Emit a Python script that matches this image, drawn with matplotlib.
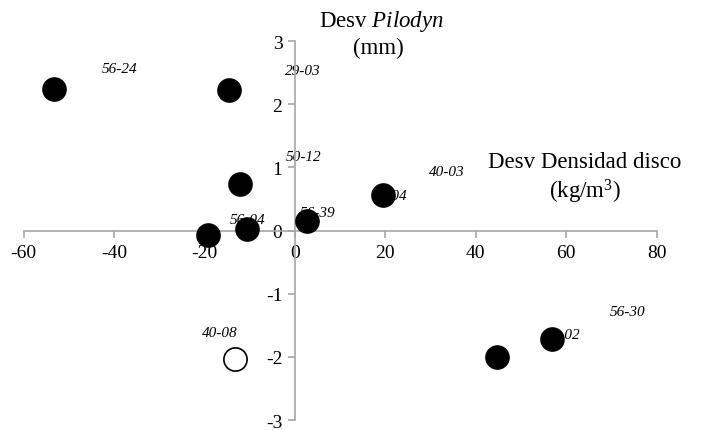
import matplotlib
matplotlib.use("Agg")
import matplotlib.pyplot as plt

plt.rcParams['font.family'] = ['Liberation Serif', 'DejaVu Serif']
plt.rcParams['mathtext.fontset'] = 'custom'
plt.rcParams['mathtext.rm'] = 'Liberation Serif'
plt.rcParams['mathtext.it'] = 'Liberation Serif:italic'

# filled points: deviation of disc density (kg/m3) vs deviation of Pilodyn (mm)
dens_filled = [-53.3, -14.6, -12.2, -19.2, -10.6, 2.6, 19.4, 44.6, 56.8]
pilo_filled = [2.24, 2.22, 0.74, -0.07, 0.02, 0.15, 0.57, -2.0, -1.72]
# open point
dens_open = [-13.3]
pilo_open = [-2.03]

# clone labels (as placed on the chart)
labels = ["56-24", "29-03", "50-12", "56-39", "56-04", "40-03", "20-04", "39-02", "56-30", "40-08"]
label_x = [-38.7, 1.8, 2.0, 5.1, -10.4, 33.6, 21.0, 59.0, 73.6, -16.6]
label_y = [2.57, 2.54, 1.18, 0.28, 0.17, 0.93, 0.55, -1.64, -1.28, -1.62]

xticks = [-60, -40, -20, 0, 20, 40, 60, 80]
yticks = [-3, -2, -1, 0, 1, 2, 3]

fig = plt.figure(figsize=(7.1, 4.31), dpi=100)
ax = fig.add_axes([0.0331, 0.0232, 0.892, 0.879])

ax.set_xlim(-60, 80)
ax.set_ylim(-3, 3)

for side in ['top', 'right']:
    ax.spines[side].set_visible(False)
ax.spines['left'].set_position(('data', 0))
ax.spines['bottom'].set_position(('data', 0))
for side in ['left', 'bottom']:
    ax.spines[side].set_color('#a6a6a6')
    ax.spines[side].set_linewidth(1.2)

ax.set_xticks(xticks)
ax.set_yticks(yticks)
ax.set_xticklabels([str(v) for v in xticks])
ax.set_yticklabels([str(v) for v in yticks])
ax.tick_params(axis='both', colors='#a6a6a6', labelcolor='black', labelsize=14,
               length=5, width=1.2, direction='out')
ax.tick_params(axis='x', pad=5)
ax.tick_params(axis='y', pad=4)

for lab, lx, ly in zip(labels, label_x, label_y):
    ax.text(lx, ly, lab, fontsize=11, style='italic', ha='center', va='center', zorder=2)

ax.scatter(dens_filled, pilo_filled, s=280, color='black', zorder=3)
ax.scatter(dens_open, pilo_open, s=280, facecolor='white', edgecolor='black',
           linewidth=1.2, zorder=3)

# axis titles
fig.text(381 / 710, 1 - 22 / 431, "Desv $\\mathit{Pilodyn}$", fontsize=16.5,
         ha='center', va='center')
fig.text(378 / 710, 1 - 48 / 431, "(mm)", fontsize=16.5, ha='center', va='center')
fig.text(585 / 710, 1 - 163 / 431, "Desv Densidad disco", fontsize=16.5,
         ha='center', va='center')
fig.text(585 / 710, 1 - 192 / 431, "(kg/m$^3$)", fontsize=16.5, ha='center', va='center')

fig.savefig("out.png", dpi=100)
